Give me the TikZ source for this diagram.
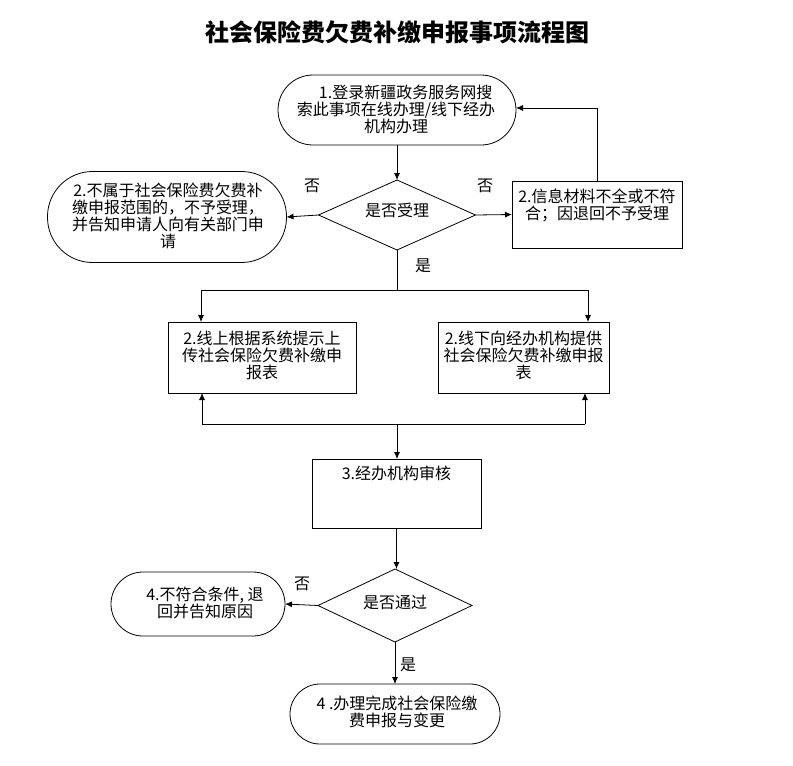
\documentclass[tikz,border=0pt]{standalone}
\usepackage{fontspec}
\setmainfont{Noto Sans CJK SC}
\usetikzlibrary{arrows.meta,shapes.geometric}
\begin{document}
\begin{tikzpicture}[x=1pt,y=-1pt,
  every node/.style={inner sep=0pt,outer sep=0pt},
  txt/.style={font=\fontsize{16}{17}\selectfont,align=center},
  stadium/.style={draw,line width=0.8pt,txt,rounded corners=#1},
  boxn/.style={draw,line width=0.8pt,txt},
  arr/.style={line width=0.8pt,-{Latex[length=7pt,width=6pt]}},
  ln/.style={line width=0.8pt},
  lbl/.style={font=\fontsize{16}{17}\selectfont}]
\useasboundingbox (0,0) rectangle (793,766);
\node[font=\bfseries\fontsize{24}{26}\selectfont] (title) at (397,32) {社会保险费欠费补缴申报事项流程图};

% node 1
\node[stadium=35pt,minimum width=238pt,minimum height=70pt] (n1) at (397,110) {};
\node[txt] (t1) at (396,109) {\hspace*{1.2em}1.登录新疆政务服务网搜\\索此事项在线办理/线下经办\\机构办理};

% diamond 1
\node[draw,line width=0.8pt,minimum width=157pt,minimum height=70pt,shape=diamond,aspect=2.24,inner sep=0pt] (d1) at (397,215) {};
\node[txt] (d1t) at (397,210) {是否受理};

% left stadium
\node[stadium=45pt,minimum width=239pt,minimum height=91pt] (s2) at (167,217) {};
\node[txt] (s2t) at (168,216) {2.不属于社会保险费欠费补\\缴申报范围的，不予受理，\\并告知申请人向有关部门申\\请};

% right box
\node[boxn,minimum width=170pt,minimum height=67pt] (b2) at (597,214.5) {};
\node[txt,anchor=north] (b2t) at (597,189) {2.信息材料不全或不符\\合；因退回不予受理};

% online / offline boxes
\node[boxn,minimum width=188pt,minimum height=71pt] (bl) at (262,357.5) {};
\node[txt] (blt) at (262,355) {2.线上根据系统提示上\\传社会保险欠费补缴申\\报表};
\node[boxn,minimum width=171pt,minimum height=71pt] (br) at (523.5,357.5) {};
\node[txt] (brt) at (523.5,355) {2.线下向经办机构提供\\社会保险欠费补缴申报\\表};

% box 3
\node[boxn,minimum width=169pt,minimum height=69pt] (b3) at (396.5,493.5) {};
\node[txt,anchor=north] (b3t) at (396.5,466) {3.经办机构审核};

% diamond 2
\node[draw,line width=0.8pt,minimum width=154pt,minimum height=73pt,shape=diamond,aspect=2.1,inner sep=0pt] (d2) at (395,605.5) {};
\node[txt] (d2t) at (395,602) {是否通过};

% left stadium 2
\node[stadium=32pt,minimum width=174pt,minimum height=64pt] (s4) at (198,604) {};
\node[txt] (s4t) at (205,603) {4.不符合条件, 退\\回并告知原因};

% final stadium
\node[stadium=30pt,minimum width=210pt,minimum height=60pt] (s5) at (395,714) {};
\node[txt] (s5t) at (397,712) {4 .办理完成社会保险缴\\费申报与变更};

% coordinates
\coordinate (c1) at (597,108);
\coordinate (j1) at (397,290);
\coordinate (jl) at (201,290);
\coordinate (jr) at (588,290);
\coordinate (kl) at (202,424);
\coordinate (kr) at (585,424);
\coordinate (k0) at (397,424);

% connectors
\draw[arr] (n1.south) -- (d1.north);
\draw[arr] (d1.west) -- (s2.east);
\draw[arr] (d1.east) -- (b2.west);
\draw[arr] (b2.north) -- (c1) -- (n1.east|-c1);
\draw[ln] (d1.south) -- (j1);
\draw[ln] (jl) -- (jr);
\draw[arr] (jl) -- (jl|-bl.north);
\draw[arr] (jr) -- (jr|-br.north);
\draw[ln] (kl) -- (kr);
\draw[arr] (kl) -- (kl|-bl.south);
\draw[arr] (kr) -- (kr|-br.south);
\draw[arr] (k0) -- (k0|-b3.north);
\draw[arr] (b3.south) -- (b3.south|-d2.north);
\draw[arr] (d2.west) -- (s4.east);
\draw[arr] (d2.south) -- (d2.south|-s5.north);

% labels
\node[lbl] (l1) at (312,186) {否};
\node[lbl] (l2) at (485,186) {否};
\node[lbl] (l3) at (423,266) {是};
\node[lbl] (l4) at (302,584) {否};
\node[lbl] (l5) at (408,665) {是};
\end{tikzpicture}
\end{document}
